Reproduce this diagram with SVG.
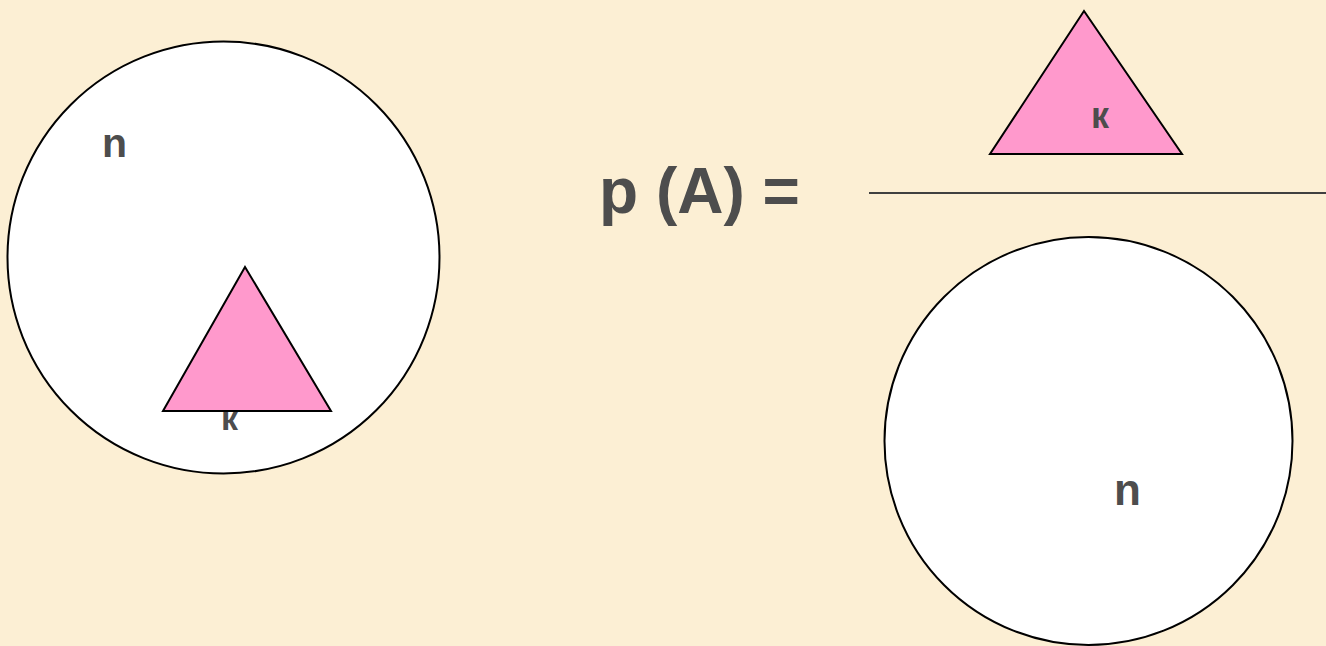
<svg xmlns="http://www.w3.org/2000/svg" width="1326" height="646" viewBox="0 0 1326 646">
<style>
.shape{stroke:#000;stroke-width:2}
.circ{fill:#fff}
.tri{fill:#ff99cc}
.lbl{font-family:"Liberation Sans",Arial,sans-serif;font-weight:bold;fill:#4d4d4d}
</style>
<rect width="1326" height="646" fill="#fcefd4"/>
<g id="left-circle">
<circle class="shape circ" cx="223.5" cy="257.5" r="216"/>
<text class="lbl" x="102" y="157" font-size="41">n</text>
</g>
<g id="left-triangle">
<polygon class="shape tri" points="245,267 163,411 331,411"/>
<text class="lbl" x="221" y="430" font-size="34">к</text>
</g>
<g id="formula">
<text class="lbl" x="599" y="213" font-size="64">p (A) =</text>
</g>
<g id="connectors">
<line x1="869" y1="193" x2="1326" y2="193" stroke="#404040" stroke-width="2"/>
</g>
<g id="top-triangle">
<polygon class="shape tri" points="1084,11 990,154 1182,154"/>
<text class="lbl" x="1091" y="128" font-size="36">к</text>
</g>
<g id="bottom-circle">
<circle class="shape circ" cx="1088.5" cy="441" r="204"/>
<text class="lbl" x="1114" y="505" font-size="44">n</text>
</g>
</svg>
